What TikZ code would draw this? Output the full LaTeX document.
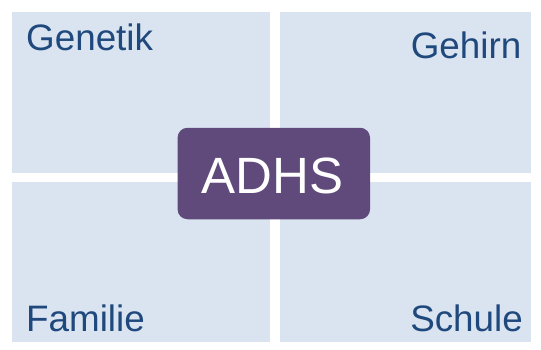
\documentclass[tikz,border=0pt]{standalone}
\usepackage{fontspec}
\setmainfont{Liberation Sans}
\definecolor{boxblue}{HTML}{DAE3F0}
\definecolor{adhspurple}{HTML}{604A7B}
\definecolor{labelblue}{HTML}{1F497D}
\begin{document}
\begin{tikzpicture}[x=1pt,y=-1pt,
  quad/.style={fill=boxblue,draw=none},
  lbl/.style={text=labelblue,font=\fontsize{36.8}{42}\selectfont,inner sep=0pt},
  centre/.style={fill=adhspurple,draw=none,rounded corners=10pt,text=white,
     font=\fontsize{51}{60}\selectfont,minimum width=192.5pt,minimum height=91.5pt,inner sep=0pt}]
\useasboundingbox (0,0) rectangle (541,349);
\fill[white] (0,0) rectangle (541,349);
\path[quad] (12,12) rectangle (270,172.5);
\path[quad] (280,12) rectangle (531,172.5);
\path[quad] (12,182) rectangle (270,342);
\path[quad] (280,182) rectangle (531,342);
\node[lbl,anchor=base west] (gen) at (26,50.7) {Genetik};
\node[lbl,anchor=base east] (geh) at (521.5,58.3) {Gehirn};
\node[lbl,anchor=base west] (fam) at (26,331) {Familie};
\node[lbl,anchor=base east] (sch) at (523,331) {Schule};
\node[centre] (adhs) at (273.8,173.5) {};
\node[text=white,font=\fontsize{51}{60}\selectfont,inner sep=0pt,anchor=base] (adhst) at (272.2,193.3) {ADHS};
\end{tikzpicture}
\end{document}
